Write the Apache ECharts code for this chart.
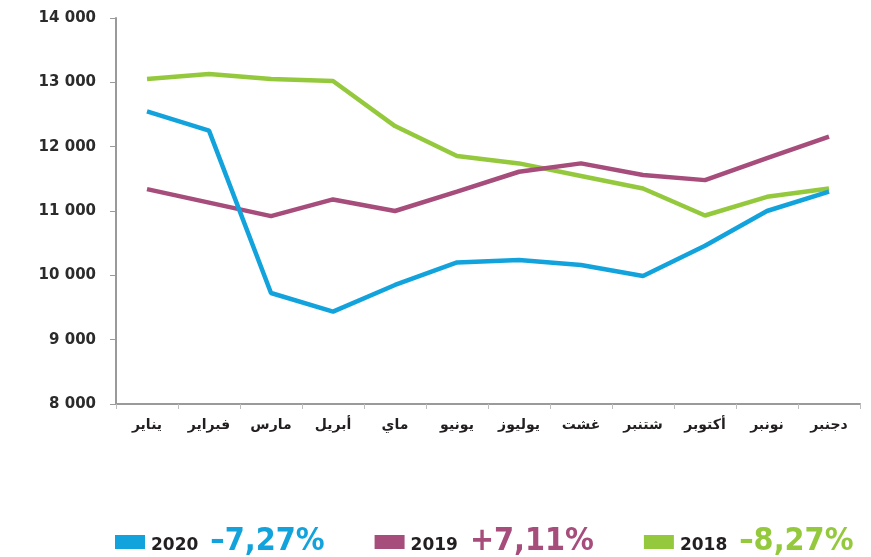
<!DOCTYPE html>
<html>
<head>
<meta charset="utf-8">
<script src="https://cdn.jsdelivr.net/npm/echarts@6/dist/echarts.min.js"></script>
<style>
html,body{margin:0;padding:0;background:#fff;}
#c{width:871px;height:557px;}
</style>
</head>
<body>
<div id="c"></div>
<script>
var months = ['يناير','فبراير','مارس','أبريل','ماي','يونيو','يوليوز','غشت','شتنبر','أكتوبر','نونبر','دجنبر'];
var s2020 = [12550, 12250, 9725, 9435, 9850, 10200, 10240, 10160, 9990, 10460, 11000, 11300];
var s2019 = [11340, 11130, 10920, 11180, 11000, 11300, 11610, 11740, 11560, 11480, 11820, 12155];
var s2018 = [13050, 13130, 13050, 13020, 12320, 11855, 11740, 11545, 11350, 10930, 11220, 11350];
var seriesNames = ['2020', '2019', '2018'];
var changes = ['–7,27%', '+7,11%', '–8,27%'];
var colors = ['#12a3dd', '#a64d7c', '#95c93d'];

var chart = echarts.init(document.getElementById('c'));
var dataSets = [s2020, s2019, s2018];
var pctFont = {fontFamily: 'DejaVu Sans Condensed, DejaVu Sans', fontWeight: 'bold', fontSize: 32};
chart.setOption({
  animation: false,
  color: colors,
  grid: {left: 116, right: 11, top: 18, bottom: 153, containLabel: false},
  legend: {
    left: 115, top: 526, padding: 0,
    icon: 'rect', itemWidth: 30, itemHeight: 14, itemGap: 50,
    data: seriesNames,
    formatter: function (name) {
      var i = seriesNames.indexOf(name);
      return '{y|' + name + '}{p' + i + '|' + changes[i] + '}';
    },
    textStyle: {
      rich: {
        y: {fontFamily: 'DejaVu Sans', fontWeight: 'bold', fontSize: 17, color: '#231f20', padding: [7, 12, 0, 1]},
        p0: Object.assign({color: colors[0]}, pctFont),
        p1: Object.assign({color: colors[1]}, pctFont),
        p2: Object.assign({color: colors[2]}, pctFont)
      }
    }
  },
  xAxis: {
    type: 'category',
    data: months,
    boundaryGap: true,
    axisLine: {lineStyle: {color: '#9a9a9a', width: 2}},
    axisTick: {show: true, inside: false, length: 5, lineStyle: {color: '#bdbdbd', width: 1}},
    axisLabel: {color: '#231f20', fontFamily: 'DejaVu Sans', fontWeight: 'bold', fontSize: 14, margin: 14, interval: 0}
  },
  yAxis: {
    type: 'value', min: 8000, max: 14000, interval: 1000,
    axisLine: {show: true, lineStyle: {color: '#9a9a9a', width: 2}},
    axisTick: {show: true, length: 6, lineStyle: {color: '#9a9a9a', width: 1}},
    splitLine: {show: false},
    axisLabel: {
      color: '#2b2b2b', fontFamily: 'DejaVu Sans', fontWeight: 'bold', fontSize: 15, margin: 20,
      formatter: function (v) { return String(v).replace(/\B(?=(\d{3})+(?!\d))/g, ' '); }
    }
  },
  series: dataSets.map(function (d, i) {
    return {
      name: seriesNames[i], type: 'line', data: d,
      symbol: 'none', lineStyle: {width: 4.5, color: colors[i]},
      itemStyle: {color: colors[i]}, z: 3 - i
    };
  })
});
</script>
</body>
</html>
